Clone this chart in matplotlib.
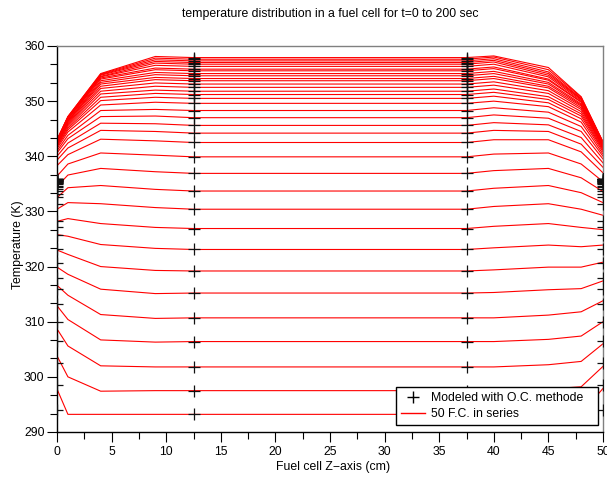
import matplotlib
matplotlib.use("Agg")
import matplotlib.pyplot as plt
from matplotlib.ticker import MultipleLocator
from matplotlib.lines import Line2D

plt.rcParams['font.family'] = ['Liberation Sans', 'DejaVu Sans']

# positions along the cell (cm) where the red profiles have vertices
z_nodes = [0, 1, 4, 9, 12.5, 37.5, 40, 45, 48, 50]
# positions of the O.C. model markers
z_marks = [0, 12.5, 37.5, 50]

# temperature (K) at the centre section (z = 12.5 / 37.5), one per time step
T_mid = [293.2, 297.5, 301.8, 306.4, 310.7, 315.2, 319.2, 323.1, 326.9, 330.4,
         333.7, 336.9, 339.9, 342.5, 344.2, 345.6, 347.0, 348.3, 349.6, 350.5,
         351.2, 351.8, 352.5, 353.1, 353.7, 354.1, 354.6, 355.0, 355.5, 355.8,
         356.3, 356.7, 357.0, 357.3, 357.6, 357.9]
T_z0 = [297.8, 303.8, 308.7, 312.9, 316.6, 319.9, 323.0, 325.8, 328.2, 330.4,
        332.5, 334.5, 336.4, 338.3, 339.3, 340.0, 340.6, 341.0, 341.4, 341.7,
        341.9, 342.1, 342.2, 342.3, 342.4, 342.5, 342.6, 342.6, 342.7, 342.7,
        342.8, 342.8, 342.9, 342.9, 343.0, 343.0]
T_z1 = [293.2, 300.0, 305.6, 310.4, 314.8, 318.6, 322.2, 325.5, 328.7, 331.6,
        334.3, 336.6, 338.6, 340.3, 341.5, 342.4, 343.2, 343.8, 344.4, 344.8,
        345.1, 345.4, 345.7, 345.9, 346.1, 346.3, 346.4, 346.5, 346.7, 346.8,
        346.9, 347.0, 347.0, 347.1, 347.2, 347.2]
T_z4 = [293.2, 297.4, 302.0, 306.7, 311.3, 315.9, 320.0, 324.0, 327.8, 331.4,
        334.7, 337.8, 340.6, 343.1, 344.7, 346.0, 347.2, 348.3, 349.3, 350.1,
        350.7, 351.3, 351.8, 352.3, 352.7, 353.1, 353.4, 353.7, 354.0, 354.2,
        354.4, 354.5, 354.7, 354.8, 354.9, 355.0]
T_z9 = [293.2, 297.5, 301.8, 306.3, 310.6, 315.1, 319.3, 323.3, 327.1, 330.7,
        334.0, 337.2, 340.2, 342.8, 344.5, 345.9, 347.3, 348.5, 349.8, 350.7,
        351.4, 352.0, 352.7, 353.3, 353.9, 354.3, 354.8, 355.2, 355.7, 356.0,
        356.5, 356.9, 357.2, 357.5, 357.8, 358.1]
T_z40 = [293.2, 297.5, 301.8, 306.4, 310.7, 315.3, 319.4, 323.4, 327.3, 330.9,
         334.2, 337.4, 340.4, 343.0, 344.7, 346.1, 347.5, 348.8, 350.0, 350.9,
         351.6, 352.2, 352.9, 353.5, 354.1, 354.5, 355.0, 355.4, 355.9, 356.2,
         356.7, 357.1, 357.4, 357.7, 358.0, 358.2]
T_z45 = [293.4, 297.8, 302.2, 306.8, 311.2, 315.8, 319.9, 323.9, 327.8, 331.4,
         334.7, 337.8, 340.6, 343.0, 344.5, 345.7, 346.9, 348.0, 349.0, 349.7,
         350.3, 350.8, 351.4, 351.9, 352.4, 352.7, 353.1, 353.4, 353.8, 354.0,
         354.4, 354.7, 355.0, 355.3, 355.7, 356.1]
T_z48 = [293.3, 298.2, 302.8, 307.4, 311.8, 316.0, 319.9, 323.6, 327.1, 330.4,
         333.4, 336.1, 338.6, 340.8, 342.2, 343.4, 344.5, 345.4, 346.2, 346.8,
         347.3, 347.7, 348.1, 348.5, 348.8, 349.1, 349.3, 349.5, 349.8, 349.9,
         350.1, 350.3, 350.4, 350.5, 350.7, 350.8]
T_z50 = [297.9, 301.9, 306.0, 310.0, 313.8, 317.4, 320.8, 323.9, 326.7, 329.3,
         331.6, 333.6, 335.4, 337.0, 338.0, 338.8, 339.5, 340.0, 340.4, 340.8,
         341.1, 341.3, 341.5, 341.7, 341.8, 341.9, 342.0, 342.1, 342.2, 342.3,
         342.4, 342.4, 342.5, 342.5, 342.6, 342.6]
# O.C. model values at the cell ends (z = 0 and z = 50)
T_oc_edge = [294.0, 298.5, 302.5, 306.5, 310.0, 313.3, 315.9, 318.0, 320.6, 323.2,
             325.7, 327.1, 328.3, 331.3, 332.6, 333.2, 333.7, 334.1, 334.4, 334.7,
             334.9, 335.1, 335.2, 335.3, 335.4, 335.5, 335.6, 335.6, 335.7, 335.7,
             335.8, 335.8, 335.8, 335.9, 335.9, 335.9]

W, H = 607, 480
fig = plt.figure(figsize=(W / 100, H / 100), dpi=100)
ax = fig.add_axes([57 / W, 48 / H, 546 / W, 386 / H])

for i in range(len(T_mid)):
    prof = [T_z0[i], T_z1[i], T_z4[i], T_z9[i], T_mid[i], T_mid[i],
            T_z40[i], T_z45[i], T_z48[i], T_z50[i]]
    ax.plot(z_nodes, prof, color='#ff0000', lw=0.8, zorder=2)

for i in range(len(T_mid)):
    ax.plot(z_marks, [T_oc_edge[i], T_mid[i], T_mid[i], T_oc_edge[i]],
            ls='none', marker='+', ms=8, mew=0.9, color='#111111', zorder=3)

ax.set_xlim(0, 50)
ax.set_ylim(290, 360)
ax.set_xticks(range(0, 51, 5))
ax.set_yticks(range(290, 361, 10))
ax.xaxis.set_minor_locator(MultipleLocator(2.5))
ax.yaxis.set_minor_locator(MultipleLocator(10 / 3))
ax.tick_params(which='major', direction='out', length=7, width=0.8,
               labelsize=8.8, colors='black', pad=2)
ax.tick_params(which='minor', direction='out', length=5, width=0.8)
ax.tick_params(axis='x', pad=3)

for s in ['left', 'bottom']:
    ax.spines[s].set_color('black')
    ax.spines[s].set_linewidth(1.0)
for s in ['top', 'right']:
    ax.spines[s].set_color('#808080')
    ax.spines[s].set_linewidth(1.0)

handles = [Line2D([], [], ls='none', marker='+', ms=9, mew=1.0, color='black'),
           Line2D([], [], color='#ff0000', lw=1.0)]
leg = ax.legend(handles, ['Modeled with O.C. methode', '50 F.C. in series'],
                loc='lower left', mode='expand',
                bbox_to_anchor=((396 - 57) / 546, 7 / 386, 202 / 546, 39 / 386),
                borderaxespad=0, fancybox=False, framealpha=1,
                edgecolor='black', fontsize=8.8, handlelength=2.0,
                handletextpad=0.5, borderpad=0.4, labelspacing=0.35)
leg.get_frame().set_linewidth(1.0)

fig.text(330 / W, 1 - 14 / H,
         'temperature distribution in a fuel cell for t=0 to 200 sec',
         ha='center', va='center', fontsize=8.8)
fig.text(333 / W, 1 - 467 / H, 'Fuel cell Z\u2212axis (cm)',
         ha='center', va='center', fontsize=8.8)
fig.text(18 / W, 1 - 245 / H, 'Temperature (K)', rotation=90,
         ha='center', va='center', fontsize=8.8)

fig.savefig('out.png', dpi=100)
